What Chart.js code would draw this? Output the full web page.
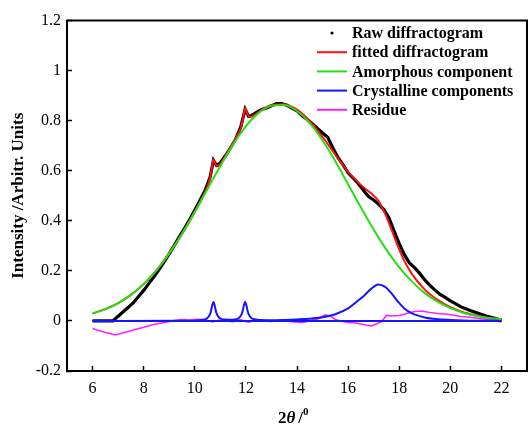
<!DOCTYPE html>
<html>
<head>
<meta charset="utf-8">
<script src="https://cdn.jsdelivr.net/npm/chart.js@4.4.1/dist/chart.umd.min.js"></script>
<style>
  body { margin: 0; background: #fff; }
</style>
</head>
<body>
<canvas id="myChart" width="528" height="432"></canvas>
<script>
// 2theta grid shared by the fitted and amorphous curves
const twoTheta = [6, 6.5, 7, 7.5, 8, 8.5, 9, 9.5, 10, 10.25, 10.4, 10.55, 10.65, 10.73, 10.81, 10.91,
  11.1, 11.35, 11.6, 11.8, 11.89, 11.97, 12.05, 12.15, 12.35, 12.6, 13, 13.5, 14, 14.5, 15, 15.5,
  16, 16.3, 16.6, 16.9, 17.18, 17.45, 17.7, 17.95, 18.2, 18.5, 19, 19.5, 20, 20.5, 21, 21.5, 22];

const amorphous = [0.030, 0.047, 0.071, 0.104, 0.147, 0.202, 0.270, 0.348, 0.435, 0.481, 0.509, 0.537,
  0.556, 0.570, 0.585, 0.603, 0.637, 0.681, 0.721, 0.751, 0.763, 0.774, 0.784, 0.796, 0.817, 0.839,
  0.860, 0.863, 0.839, 0.790, 0.721, 0.638, 0.546, 0.490, 0.435, 0.382, 0.335, 0.292, 0.255, 0.221,
  0.190, 0.157, 0.111, 0.077, 0.051, 0.033, 0.021, 0.012, 0.007];

const fitted = [0.030, 0.047, 0.071, 0.104, 0.147, 0.202, 0.270, 0.348, 0.436, 0.484, 0.515, 0.553,
  0.598, 0.646, 0.627, 0.619, 0.643, 0.685, 0.729, 0.771, 0.808, 0.851, 0.829, 0.815, 0.824, 0.842,
  0.862, 0.866, 0.844, 0.798, 0.735, 0.664, 0.596, 0.564, 0.534, 0.510, 0.481, 0.428, 0.365, 0.298,
  0.240, 0.187, 0.125, 0.084, 0.055, 0.035, 0.022, 0.012, 0.007];

// crystalline peaks (10.7, 11.97, 17.2)
const crystX = [6, 9.5, 10.1, 10.33, 10.48, 10.58, 10.63, 10.68, 10.73, 10.78, 10.83, 10.88, 10.98,
  11.13, 11.35, 11.57, 11.72, 11.82, 11.87, 11.92, 11.97, 12.02, 12.07, 12.12, 12.22, 12.37, 12.6,
  13, 13.5, 14, 14.5, 15, 15.5, 16, 16.3, 16.6, 16.9, 17.18, 17.45, 17.7, 17.95, 18.2, 18.5, 19,
  19.5, 20, 20.5, 21, 22];
const crystY = [0, 0.001, 0.002, 0.0045, 0.0105, 0.023, 0.038, 0.061, 0.076, 0.061, 0.038, 0.023,
  0.011, 0.0056, 0.005, 0.006, 0.011, 0.024, 0.0385, 0.062, 0.077, 0.062, 0.0385, 0.024, 0.011,
  0.006, 0.004, 0.003, 0.004, 0.006, 0.009, 0.015, 0.027, 0.050, 0.074, 0.099, 0.128, 0.146, 0.136,
  0.110, 0.077, 0.050, 0.030, 0.014, 0.007, 0.004, 0.002, 0.001, 0];

// raw diffractogram
const rawX = [6, 6.8, 7, 7.2, 7.4, 7.6, 7.8, 8, 8.2, 8.4, 8.6, 8.8, 9, 9.2, 9.4, 9.6, 9.8, 10, 10.2,
  10.4, 10.6, 10.73, 10.85, 11, 11.2, 11.4, 11.6, 11.8, 11.97, 12.1, 12.2, 12.4, 12.6, 12.8, 13, 13.2,
  13.4, 13.6, 13.8, 14, 14.2, 14.4, 14.6, 14.8, 15, 15.2, 15.4, 15.6, 15.8, 16, 16.2, 16.4, 16.6, 16.8,
  17, 17.2, 17.4, 17.6, 17.8, 18, 18.2, 18.4, 18.6, 18.8, 19, 19.2, 19.4, 19.6, 19.8, 20, 20.2, 20.4,
  20.6, 20.8, 21, 21.2, 21.4, 21.6, 21.8, 22];
const rawY = [0, 0, 0.019, 0.037, 0.055, 0.073, 0.098, 0.122, 0.149, 0.176, 0.205, 0.236, 0.268, 0.302,
  0.337, 0.370, 0.405, 0.442, 0.481, 0.520, 0.575, 0.642, 0.622, 0.632, 0.660, 0.692, 0.726, 0.775,
  0.846, 0.818, 0.820, 0.832, 0.844, 0.851, 0.860, 0.868, 0.868, 0.862, 0.850, 0.840, 0.820, 0.805,
  0.788, 0.769, 0.751, 0.734, 0.692, 0.653, 0.624, 0.592, 0.571, 0.548, 0.522, 0.497, 0.483, 0.466,
  0.445, 0.411, 0.359, 0.309, 0.265, 0.232, 0.213, 0.190, 0.164, 0.142, 0.123, 0.106, 0.094, 0.080,
  0.069, 0.057, 0.049, 0.041, 0.034, 0.027, 0.020, 0.015, 0.009, 0.003];

// residue (raw - fitted)
const residueX = [6, 6.25, 6.5, 6.75, 6.9, 7.1, 7.4, 7.7, 8, 8.3, 8.6, 8.9, 9.2, 9.5, 9.8, 10.1, 10.4,
  10.7, 10.9, 11.2, 11.5, 11.8, 12.1, 12.4, 12.7, 13, 13.3, 13.6, 13.9, 14.2, 14.5, 14.8, 15.1, 15.3,
  15.5, 15.7, 16, 16.3, 16.6, 16.9, 17.1, 17.3, 17.5, 17.7, 18, 18.3, 18.6, 18.9, 19.2, 19.5, 19.8,
  20.1, 20.4, 20.7, 21, 21.3, 21.6, 22];
const residueY = [-0.030, -0.038, -0.046, -0.052, -0.056, -0.050, -0.042, -0.033, -0.025, -0.016,
  -0.010, -0.004, 0.002, 0.006, 0.004, 0.007, 0.005, -0.004, 0.003, 0.000, -0.003, 0.004, -0.005,
  0.004, 0.000, -0.002, 0.003, 0.000, -0.004, -0.006, 0.000, 0.008, 0.024, 0.020, 0.006, 0.000,
  -0.006, -0.008, -0.014, -0.020, -0.012, -0.004, 0.022, 0.020, 0.022, 0.030, 0.038, 0.040, 0.034,
  0.030, 0.028, 0.024, 0.018, 0.016, 0.012, 0.008, 0.004, -0.004];

const baseX = [6, 22];
const baseY = [0, 0];

const xTicks = [6, 8, 10, 12, 14, 16, 18, 20, 22];
const yTicks = [-0.2, 0, 0.2, 0.4, 0.6, 0.8, 1, 1.2];

const legendNames = ["Raw diffractogram", "fitted diffractogram", "Amorphous component",
  "Crystalline components", "Residue"];

const serif = "'Liberation Serif', 'Times New Roman', serif";

function pts(xs, ys) {
  return ys.map((y, i) => ({ x: xs[i], y: y }));
}

const colRaw = "#000000";
const colFit = "#ff1010";
const colAmo = "#22e011";
const colCry = "#1414ff";
const colRes = "#ff22ff";

// legend + frame + x title drawn by hand
const decor = {
  id: "decor",
  afterDraw(chart) {
    const ctx = chart.ctx;
    const a = chart.chartArea;
    ctx.save();
    ctx.strokeStyle = "#000";
    ctx.lineWidth = 2;
    ctx.beginPath();
    ctx.moveTo(a.left, a.top);
    ctx.lineTo(a.right, a.top);
    ctx.lineTo(a.right, a.bottom);
    ctx.stroke();

    // legend
    const cols = [colRaw, colFit, colAmo, colCry, colRes];
    ctx.font = "bold 16px " + serif;
    ctx.textBaseline = "middle";
    ctx.textAlign = "left";
    for (let i = 0; i < legendNames.length; i++) {
      let y = 33 + i * 19.2;
      if (i == 0) {
        ctx.fillStyle = colRaw;
        ctx.beginPath();
        ctx.arc(332, y, 1.6, 0, Math.PI * 2);
        ctx.fill();
      } else {
        ctx.strokeStyle = cols[i];
        ctx.lineWidth = 2;
        ctx.beginPath();
        ctx.moveTo(317, y);
        ctx.lineTo(347, y);
        ctx.stroke();
      }
      ctx.fillStyle = "#000";
      ctx.fillText(legendNames[i], 352, y + 1);
    }

    // x axis title: 2θ /⁰
    ctx.textBaseline = "alphabetic";
    let x = 278, yb = 423;
    ctx.font = "bold 17px " + serif;
    ctx.fillText("2", x, yb);
    x += ctx.measureText("2").width;
    ctx.font = "italic bold 17px " + serif;
    ctx.fillText("θ", x, yb);
    x += ctx.measureText("θ").width + 3;
    ctx.font = "bold 17px " + serif;
    ctx.fillText("/", x, yb);
    x += ctx.measureText("/").width;
    ctx.font = "bold 11px " + serif;
    ctx.fillText("0", x, yb - 8);
    ctx.restore();
  }
};

const ctx = document.getElementById("myChart");

new Chart(ctx, {
  type: "line",
  data: {
    datasets: [
      {
        label: legendNames[0],
        data: pts(rawX, rawY),
        borderColor: colRaw,
        borderWidth: 3.2,
        pointRadius: 0,
        tension: 0,
        order: 5,
      },
      {
        label: legendNames[4],
        data: pts(residueX, residueY),
        borderColor: colRes,
        borderWidth: 1.6,
        pointRadius: 0,
        tension: 0,
        order: 4,
      },
      {
        label: legendNames[1],
        data: pts(twoTheta, fitted),
        borderColor: colFit,
        borderWidth: 2,
        pointRadius: 0,
        cubicInterpolationMode: "monotone",
        order: 3,
      },
      {
        label: legendNames[2],
        data: pts(twoTheta, amorphous),
        borderColor: colAmo,
        borderWidth: 2,
        pointRadius: 0,
        cubicInterpolationMode: "monotone",
        order: 2,
      },
      {
        label: "baseline",
        data: pts(baseX, baseY),
        borderColor: colCry,
        borderWidth: 2,
        pointRadius: 0,
        order: 1,
      },
      {
        label: legendNames[3],
        data: pts(crystX, crystY),
        borderColor: colCry,
        borderWidth: 2,
        pointRadius: 0,
        cubicInterpolationMode: "monotone",
        order: 1,
      },
    ],
  },
  options: {
    responsive: false,
    animation: false,
    layout: { padding: { top: 13, right: 1, left: 0, bottom: 0 } },
    plugins: {
      legend: { display: false },
      tooltip: { enabled: false },
    },
    scales: {
      x: {
        type: "linear",
        min: 5,
        max: 23,
        afterBuildTicks: (scale) => { scale.ticks = xTicks.map(v => ({ value: v })); },
        afterFit: (scale) => { scale.height = 61; },
        border: { display: true, color: "#000", width: 2 },
        grid: { display: true, drawOnChartArea: false, drawTicks: true, tickLength: -5, color: "#000", tickWidth: 1.5 },
        ticks: { color: "#000", font: { family: serif, size: 16 }, padding: 13, maxRotation: 0 },
      },
      y: {
        min: -0.2,
        max: 1.2,
        afterBuildTicks: (scale) => { scale.ticks = yTicks.map(v => ({ value: v })); },
        afterFit: (scale) => { scale.width = 67; },
        border: { display: true, color: "#000", width: 2 },
        grid: { display: true, drawOnChartArea: false, drawTicks: true, tickLength: -5, color: "#000", tickWidth: 1.5 },
        ticks: {
          color: "#000",
          font: { family: serif, size: 16 },
          padding: 11,
          callback: (v) => String(Math.round(v * 10) / 10),
        },
        title: {
          display: true,
          text: "Intensity /Arbitr. Units",
          color: "#000",
          font: { family: serif, size: 17, weight: "bold" },
          padding: { top: 8, bottom: 0 },
        },
      },
    },
  },
  plugins: [decor],
});
</script>
</body>
</html>
